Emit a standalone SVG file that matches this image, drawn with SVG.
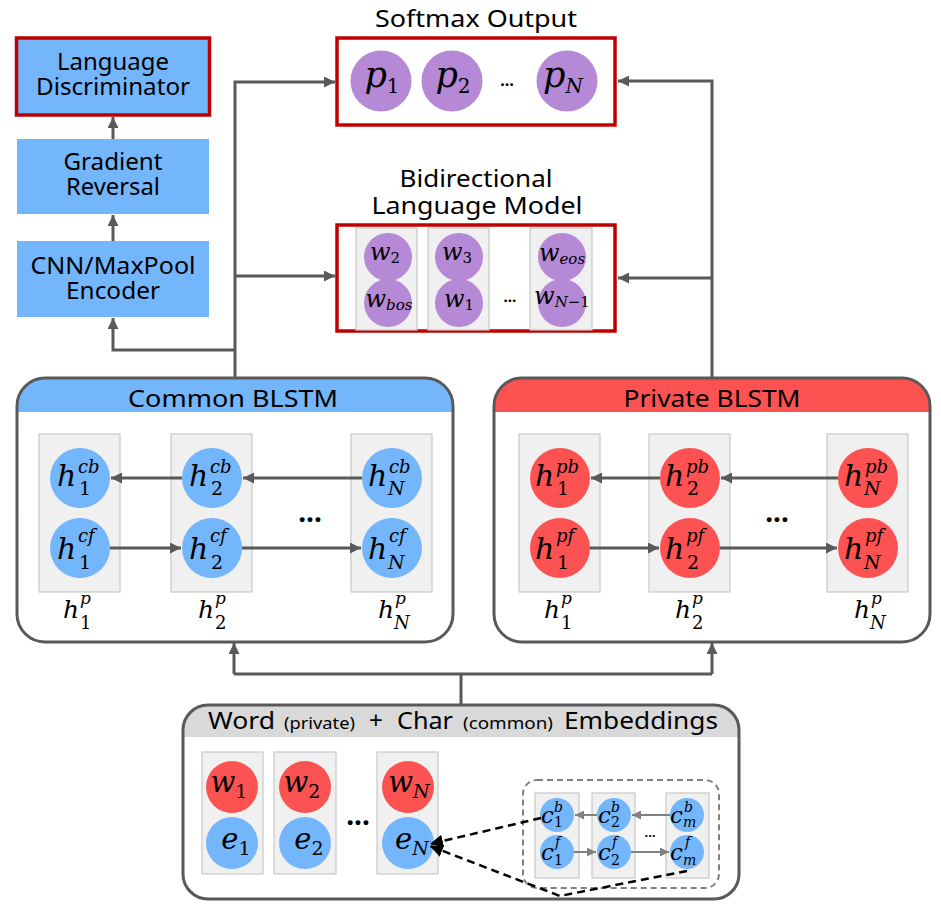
<svg xmlns="http://www.w3.org/2000/svg" width="941" height="907" viewBox="0 0 941 907">
<style>
.t{font-family:"Noto Sans","Open Sans",sans-serif;font-size:24px;fill:#000}
.ts{font-family:"Noto Sans","Open Sans",sans-serif;font-size:16px;fill:#000}
.mi{font-family:"DejaVu Serif",serif;font-style:italic;fill:#000}
.mn{font-family:"DejaVu Serif",serif;font-style:normal;fill:#000}
.blue{fill:#74B6FC}
.redc{fill:#FC5252}
.purp{fill:#B589D6}
.redb{fill:none;stroke:#C00000;stroke-width:3.5}
.col{fill:#F0F0F0;stroke:#C8C8C8;stroke-width:1.2}
.frame{fill:none;stroke:#595959;stroke-width:3}
.conn{fill:none;stroke:#595959;stroke-width:3}
.gconn{fill:none;stroke:#808080;stroke-width:2}
.dash{fill:none;stroke:#000;stroke-width:2.5;stroke-dasharray:8,5}
.dots{font-family:"Noto Sans",sans-serif;font-weight:bold;fill:#000}
</style>
<defs>
<marker id="ah" viewBox="0 0 10 10" refX="10" refY="5" markerWidth="11" markerHeight="11" markerUnits="userSpaceOnUse" orient="auto"><path d="M0,0 L10,5 L0,10 Z" fill="#595959"/></marker>
<marker id="ahg" viewBox="0 0 10 10" refX="10" refY="5" markerWidth="9" markerHeight="9" markerUnits="userSpaceOnUse" orient="auto"><path d="M0,0 L10,5 L0,10 Z" fill="#808080"/></marker>
<marker id="ahk" viewBox="0 0 10 10" refX="10" refY="5" markerWidth="13" markerHeight="13" markerUnits="userSpaceOnUse" orient="auto"><path d="M0,0 L10,5 L0,10 Z" fill="#000"/></marker>
</defs>
<rect width="941" height="907" fill="#fff"/>

<g id="connectors">
<path class="conn" d="M235,378 V82 H335" marker-end="url(#ah)"/>
<path class="conn" d="M235,276 H335" marker-end="url(#ah)"/>
<path class="conn" d="M235,350 H113 V318" marker-end="url(#ah)"/>
<path class="conn" d="M113,241 V215" marker-end="url(#ah)"/>
<path class="conn" d="M113,139 V117" marker-end="url(#ah)"/>
<path class="conn" d="M712,378 V81 H618" marker-end="url(#ah)"/>
<path class="conn" d="M712,278 H618" marker-end="url(#ah)"/>
<path class="conn" d="M461,706 V674"/>
<path class="conn" d="M234,674 H712"/>
<path class="conn" d="M234,674 V643" marker-end="url(#ah)"/>
<path class="conn" d="M712,674 V643" marker-end="url(#ah)"/>
</g>

<g id="lang-disc">
<rect x="16.5" y="38" width="193" height="77" class="blue"/>
<rect x="16.5" y="38" width="193" height="77" class="redb"/>
<text class="t" x="113" y="70" text-anchor="middle" textLength="112" lengthAdjust="spacingAndGlyphs">Language</text>
<text class="t" x="113" y="95" text-anchor="middle" textLength="154" lengthAdjust="spacingAndGlyphs">Discriminator</text>
</g>
<g id="grad-rev">
<rect x="17" y="139" width="192" height="75" class="blue"/>
<text class="t" x="113" y="170" text-anchor="middle" textLength="99" lengthAdjust="spacingAndGlyphs">Gradient</text>
<text class="t" x="113" y="195" text-anchor="middle" textLength="94" lengthAdjust="spacingAndGlyphs">Reversal</text>
</g>
<g id="cnn-enc">
<rect x="17" y="241" width="192" height="76" class="blue"/>
<text class="t" x="113" y="274" text-anchor="middle" textLength="165" lengthAdjust="spacingAndGlyphs">CNN/MaxPool</text>
<text class="t" x="113" y="299" text-anchor="middle" textLength="94" lengthAdjust="spacingAndGlyphs">Encoder</text>
</g>

<g id="softmax">
<text class="t" x="476" y="27" text-anchor="middle" textLength="202" lengthAdjust="spacingAndGlyphs">Softmax Output</text>
<rect x="337" y="38" width="278" height="87" class="redb"/>
<circle cx="381" cy="81" r="30.5" class="purp"/>
<circle cx="452" cy="81" r="30.5" class="purp"/>
<circle cx="567" cy="81" r="30.5" class="purp"/>
<text class="mi" x="382" y="87" text-anchor="middle" font-size="35">p<tspan class="mn" font-size="20" dy="6">1</tspan></text>
<text class="mi" x="453" y="87" text-anchor="middle" font-size="35">p<tspan class="mn" font-size="20" dy="6">2</tspan></text>
<text class="mi" x="563" y="87" text-anchor="middle" font-size="35">p<tspan font-size="20" dy="6">N</tspan></text>
<text class="dots" x="507" y="86" text-anchor="middle" font-size="16" font-weight="normal">…</text>
</g>

<g id="bilm">
<text class="t" x="476" y="187" text-anchor="middle" textLength="153" lengthAdjust="spacingAndGlyphs">Bidirectional</text>
<text class="t" x="477" y="214" text-anchor="middle" textLength="211" lengthAdjust="spacingAndGlyphs">Language Model</text>
<rect x="337" y="225" width="278" height="106" class="redb"/>
<rect x="356" y="228" width="61" height="102" class="col"/>
<rect x="428" y="228" width="61" height="102" class="col"/>
<rect x="530" y="228" width="62" height="102" class="col"/>
<circle cx="388" cy="257" r="24" class="purp"/>
<circle cx="388" cy="303" r="24" class="purp"/>
<circle cx="459" cy="257" r="24" class="purp"/>
<circle cx="459" cy="303" r="24" class="purp"/>
<circle cx="562" cy="257" r="24" class="purp"/>
<circle cx="562" cy="303" r="24" class="purp"/>
<text class="mi" x="385" y="260" text-anchor="middle" font-size="24">w<tspan class="mn" font-size="15" dy="3">2</tspan></text>
<text class="mi" x="389" y="307" text-anchor="middle" font-size="24">w<tspan font-size="15" dy="3">bos</tspan></text>
<text class="mi" x="457" y="260" text-anchor="middle" font-size="24">w<tspan class="mn" font-size="15" dy="3">3</tspan></text>
<text class="mi" x="459" y="307" text-anchor="middle" font-size="24">w<tspan class="mn" font-size="15" dy="3">1</tspan></text>
<text class="mi" x="562" y="261" text-anchor="middle" font-size="24">w<tspan font-size="15" dy="3">eos</tspan></text>
<text class="mi" x="562" y="304" text-anchor="middle" font-size="24">w<tspan font-size="15" dy="3">N</tspan><tspan class="mn" font-size="15">−1</tspan></text>
<text class="dots" x="510" y="302" text-anchor="middle" font-size="15" font-weight="normal">…</text>
</g>

<g id="common-blstm">
<rect x="17" y="378" width="436" height="264" rx="28" fill="#fff"/>
<path d="M17,412 V406 A28,28 0 0 1 45,378 H425 A28,28 0 0 1 453,406 V412 Z" class="blue"/>
<rect x="17" y="378" width="436" height="264" rx="28" class="frame"/>
<text class="t" x="233" y="407" text-anchor="middle" textLength="210" lengthAdjust="spacingAndGlyphs">Common BLSTM</text>
<rect x="39" y="434" width="81" height="158" class="col"/>
<rect x="171" y="434" width="81" height="158" class="col"/>
<rect x="351" y="434" width="81" height="158" class="col"/>
<circle cx="80" cy="478" r="30" class="blue"/>
<circle cx="80" cy="548" r="30" class="blue"/>
<circle cx="212" cy="478" r="30" class="blue"/>
<circle cx="212" cy="548" r="30" class="blue"/>
<circle cx="392" cy="478" r="30" class="blue"/>
<circle cx="392" cy="548" r="30" class="blue"/>
<path class="conn" d="M182,478 H111" marker-end="url(#ah)"/>
<path class="conn" d="M362,478 H243" marker-end="url(#ah)"/>
<path class="conn" d="M110,548 H181" marker-end="url(#ah)"/>
<path class="conn" d="M242,548 H361" marker-end="url(#ah)"/>
<text class="mi" x="57" y="486" font-size="30">h</text><text class="mi" x="78" y="473" font-size="18">cb</text><text class="mn" x="79" y="495" font-size="19">1</text>
<text class="mi" x="57" y="559" font-size="30">h</text><text class="mi" x="78" y="542" font-size="18">cf</text><text class="mn" x="79" y="569" font-size="19">1</text>
<text class="mi" x="189" y="486" font-size="30">h</text><text class="mi" x="210" y="473" font-size="18">cb</text><text class="mn" x="211" y="495" font-size="19">2</text>
<text class="mi" x="189" y="559" font-size="30">h</text><text class="mi" x="210" y="542" font-size="18">cf</text><text class="mn" x="211" y="569" font-size="19">2</text>
<text class="mi" x="368" y="486" font-size="30">h</text><text class="mi" x="389" y="473" font-size="18">cb</text><text class="mi" x="388" y="495" font-size="19">N</text>
<text class="mi" x="368" y="559" font-size="30">h</text><text class="mi" x="389" y="542" font-size="18">cf</text><text class="mi" x="388" y="569" font-size="19">N</text>
<text class="dots" x="310" y="522" text-anchor="middle" font-size="28">...</text>
<text class="mi" x="63" y="618" font-size="25">h</text><text class="mi" x="80" y="604" font-size="17">p</text><text class="mn" x="80" y="629" font-size="18">1</text>
<text class="mi" x="198" y="618" font-size="25">h</text><text class="mi" x="215" y="604" font-size="17">p</text><text class="mn" x="215" y="629" font-size="18">2</text>
<text class="mi" x="378" y="618" font-size="25">h</text><text class="mi" x="395" y="604" font-size="17">p</text><text class="mi" x="394" y="629" font-size="18">N</text>
</g>

<g id="private-blstm">
<rect x="494" y="378" width="436" height="264" rx="28" fill="#fff"/>
<path d="M494,412 V406 A28,28 0 0 1 522,378 H902 A28,28 0 0 1 930,406 V412 Z" class="redc"/>
<rect x="494" y="378" width="436" height="264" rx="28" class="frame"/>
<text class="t" x="712" y="407" text-anchor="middle" textLength="177" lengthAdjust="spacingAndGlyphs">Private BLSTM</text>
<rect x="519" y="434" width="81" height="158" class="col"/>
<rect x="649" y="434" width="81" height="158" class="col"/>
<rect x="827" y="434" width="81" height="158" class="col"/>
<circle cx="560" cy="478" r="30" class="redc"/>
<circle cx="560" cy="548" r="30" class="redc"/>
<circle cx="690" cy="478" r="30" class="redc"/>
<circle cx="690" cy="548" r="30" class="redc"/>
<circle cx="868" cy="478" r="30" class="redc"/>
<circle cx="868" cy="548" r="30" class="redc"/>
<path class="conn" d="M660,478 H591" marker-end="url(#ah)"/>
<path class="conn" d="M838,478 H721" marker-end="url(#ah)"/>
<path class="conn" d="M590,548 H659" marker-end="url(#ah)"/>
<path class="conn" d="M720,548 H837" marker-end="url(#ah)"/>
<text class="mi" x="535" y="486" font-size="30">h</text><text class="mi" x="556" y="473" font-size="18">pb</text><text class="mn" x="557" y="495" font-size="19">1</text>
<text class="mi" x="535" y="559" font-size="30">h</text><text class="mi" x="556" y="542" font-size="18">pf</text><text class="mn" x="557" y="569" font-size="19">1</text>
<text class="mi" x="665" y="486" font-size="30">h</text><text class="mi" x="686" y="473" font-size="18">pb</text><text class="mn" x="687" y="495" font-size="19">2</text>
<text class="mi" x="665" y="559" font-size="30">h</text><text class="mi" x="686" y="542" font-size="18">pf</text><text class="mn" x="687" y="569" font-size="19">2</text>
<text class="mi" x="844" y="486" font-size="30">h</text><text class="mi" x="865" y="473" font-size="18">pb</text><text class="mi" x="864" y="495" font-size="19">N</text>
<text class="mi" x="844" y="559" font-size="30">h</text><text class="mi" x="865" y="542" font-size="18">pf</text><text class="mi" x="864" y="569" font-size="19">N</text>
<text class="dots" x="777" y="522" text-anchor="middle" font-size="28">...</text>
<text class="mi" x="544" y="618" font-size="25">h</text><text class="mi" x="561" y="604" font-size="17">p</text><text class="mn" x="561" y="629" font-size="18">1</text>
<text class="mi" x="675" y="618" font-size="25">h</text><text class="mi" x="692" y="604" font-size="17">p</text><text class="mn" x="692" y="629" font-size="18">2</text>
<text class="mi" x="854" y="618" font-size="25">h</text><text class="mi" x="871" y="604" font-size="17">p</text><text class="mi" x="870" y="629" font-size="18">N</text>
</g>

<g id="embeddings">
<rect x="183" y="705" width="556" height="194" rx="25" fill="#fff"/>
<path d="M183,737 V730 A25,25 0 0 1 208,705 H714 A25,25 0 0 1 739,730 V737 Z" fill="#D9D9D9"/>
<rect x="183" y="705" width="556" height="194" rx="25" class="frame"/>
<text class="t" x="208" y="729" textLength="67" lengthAdjust="spacingAndGlyphs">Word</text>
<text class="ts" x="284" y="729" textLength="71" lengthAdjust="spacingAndGlyphs">(private)</text>
<text class="t" x="369" y="729">+</text>
<text class="t" x="397" y="729" textLength="56" lengthAdjust="spacingAndGlyphs">Char</text>
<text class="ts" x="463" y="729" textLength="90" lengthAdjust="spacingAndGlyphs">(common)</text>
<text class="t" x="564" y="729" textLength="154" lengthAdjust="spacingAndGlyphs">Embeddings</text>
<rect x="202" y="752" width="61" height="122" class="col"/>
<rect x="274" y="752" width="62" height="122" class="col"/>
<rect x="377" y="752" width="61" height="122" class="col"/>
<circle cx="232" cy="787" r="26" class="redc"/>
<circle cx="232" cy="843" r="26" class="blue"/>
<circle cx="305" cy="787" r="26" class="redc"/>
<circle cx="305" cy="843" r="26" class="blue"/>
<circle cx="408" cy="787" r="26" class="redc"/>
<circle cx="408" cy="843" r="26" class="blue"/>
<text class="mi" x="229" y="792" text-anchor="middle" font-size="29">w<tspan class="mn" font-size="19" dy="6">1</tspan></text>
<text class="mi" x="236" y="849" text-anchor="middle" font-size="29">e<tspan class="mn" font-size="19" dy="6">1</tspan></text>
<text class="mi" x="302" y="792" text-anchor="middle" font-size="29">w<tspan class="mn" font-size="19" dy="6">2</tspan></text>
<text class="mi" x="309" y="849" text-anchor="middle" font-size="29">e<tspan class="mn" font-size="19" dy="6">2</tspan></text>
<text class="mi" x="409" y="792" text-anchor="middle" font-size="29">w<tspan font-size="19" dy="6">N</tspan></text>
<text class="mi" x="412" y="849" text-anchor="middle" font-size="29">e<tspan font-size="19" dy="6">N</tspan></text>
<text class="dots" x="358" y="825" text-anchor="middle" font-size="28">...</text>
</g>

<g id="char-blstm">
<rect x="523" y="780" width="196" height="108" rx="14" fill="none" stroke="#808080" stroke-width="2" stroke-dasharray="6,4"/>
<rect x="535" y="793" width="44" height="85" class="col"/>
<rect x="592" y="793" width="43" height="85" class="col"/>
<rect x="666" y="793" width="43" height="85" class="col"/>
<circle cx="557" cy="815" r="17" class="blue"/>
<circle cx="557" cy="852" r="17" class="blue"/>
<circle cx="614" cy="815" r="17" class="blue"/>
<circle cx="614" cy="852" r="17" class="blue"/>
<circle cx="687" cy="815" r="17" class="blue"/>
<circle cx="687" cy="852" r="17" class="blue"/>
<path class="gconn" d="M670,815 H632" marker-end="url(#ahg)"/>
<path class="gconn" d="M597,815 H575" marker-end="url(#ahg)"/>
<path class="gconn" d="M574,852 H596" marker-end="url(#ahg)"/>
<path class="gconn" d="M631,852 H669" marker-end="url(#ahg)"/>
<text class="mi" x="541" y="823" font-size="23">c</text><text class="mi" x="554" y="812" font-size="14">b</text><text class="mn" x="554" y="827" font-size="14">1</text>
<text class="mi" x="541" y="860" font-size="23">c</text><text class="mi" x="555" y="847" font-size="14">f</text><text class="mn" x="554" y="865" font-size="14">1</text>
<text class="mi" x="598" y="823" font-size="23">c</text><text class="mi" x="611" y="812" font-size="14">b</text><text class="mn" x="611" y="827" font-size="14">2</text>
<text class="mi" x="598" y="860" font-size="23">c</text><text class="mi" x="612" y="847" font-size="14">f</text><text class="mn" x="611" y="865" font-size="14">2</text>
<text class="mi" x="670" y="823" font-size="23">c</text><text class="mi" x="684" y="812" font-size="14">b</text><text class="mi" x="683" y="827" font-size="14">m</text>
<text class="mi" x="670" y="860" font-size="23">c</text><text class="mi" x="685" y="847" font-size="14">f</text><text class="mi" x="683" y="865" font-size="14">m</text>
<text class="dots" x="650" y="837" text-anchor="middle" font-size="13" font-weight="normal">…</text>
</g>

<g id="char-to-embedding">
<path class="dash" d="M541,818 L430,844" marker-end="url(#ahk)"/>
<path class="dash" d="M687,871 L560,896 L430,846" marker-end="url(#ahk)"/>
</g>
</svg>
